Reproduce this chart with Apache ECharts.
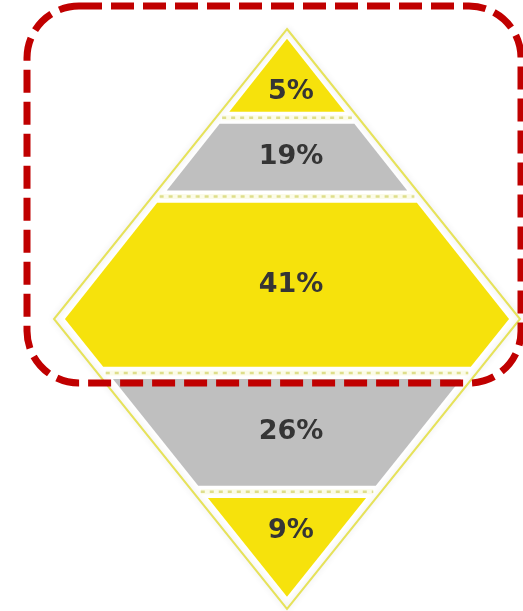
<!DOCTYPE html>
<html>
<head>
<meta charset="utf-8">
<script src="https://cdn.jsdelivr.net/npm/echarts@6/dist/echarts.min.js"></script>
<style>
  html, body { margin: 0; padding: 0; background: #ffffff; }
  #chart { width: 523px; height: 611px; }
</style>
</head>
<body>
<div id="chart"></div>
<script>
// Share of each band, listed from the top tip down
const shares = [5, 19, 41, 26, 9];
// Band boundaries on the height scale (0 = bottom tip, 100 = top tip)
const dividers = [84.7, 71.1, 40.7, 20.2];
// Fill colour of each band, top to bottom
const bandColors = ['#f6e20c', '#bfbfbf', '#f6e20c', '#bfbfbf', '#f6e20c'];

// Diamond geometry in axis units
const WIDEST = 50;                                    // height of the widest point
const OUTER = { top: 100, bottom: 0, half: 100 };     // thin outline
const INNER = { top: 98.3, bottom: 2.1, half: 95.3 }; // filled body
const GAP = 1.05;                                     // white space either side of a divider

function halfWidth(d, y) {
  if (y >= WIDEST) return Math.max(0, d.half * (d.top - y) / (d.top - WIDEST));
  return Math.max(0, d.half * (y - d.bottom) / (WIDEST - d.bottom));
}

// [index, low edge, high edge, share]
const bands = shares.map((v, i) => {
  const hi = i === 0 ? INNER.top : dividers[i - 1] - GAP;
  const lo = i === shares.length - 1 ? INNER.bottom : dividers[i] + GAP;
  return [i, lo, hi, v];
});

function renderBand(params, api) {
  const i = api.value(0), lo = api.value(1), hi = api.value(2), v = api.value(3);
  const ys = [hi];
  if (hi > WIDEST && lo < WIDEST) ys.push(WIDEST);
  ys.push(lo);
  const left = [], right = [];
  ys.forEach(y => {
    const w = halfWidth(INNER, y);
    left.push(api.coord([-w, y]));
    right.unshift(api.coord([w, y]));
  });
  let ly;
  if (hi >= INNER.top - 0.01) ly = lo + (hi - lo) * 0.27;       // top triangle
  else if (lo <= INNER.bottom + 0.01) ly = hi - (hi - lo) / 3;  // bottom triangle
  else ly = (lo + hi) / 2;
  const p = api.coord([0, ly]);
  return {
    type: 'group',
    children: [
      { type: 'polygon', shape: { points: left.concat(right) }, style: { fill: bandColors[i] } },
      {
        type: 'text', x: p[0] + 4, y: p[1],
        style: {
          text: v + '%', fill: '#353535', font: 'bold 27px "DejaVu Sans"',
          align: 'center', verticalAlign: 'middle'
        }
      }
    ]
  };
}

function renderOutline(params, api) {
  const pts = [
    api.coord([0, OUTER.top]), api.coord([OUTER.half, WIDEST]),
    api.coord([0, OUTER.bottom]), api.coord([-OUTER.half, WIDEST])
  ];
  return {
    type: 'polygon', shape: { points: pts },
    style: {
      fill: 'none', stroke: '#e6e25a', lineWidth: 2,
      shadowColor: 'rgba(0,0,0,0.12)', shadowBlur: 6
    }
  };
}

function renderDivider(params, api) {
  const y = api.value(0);
  const w = halfWidth(INNER, y) + 1;
  const a = api.coord([-w, y]), b = api.coord([w, y]);
  return {
    type: 'group',
    children: [
      {
        type: 'line', shape: { x1: a[0], y1: a[1], x2: b[0], y2: b[1] },
        style: { stroke: '#fbfbe8', lineWidth: 5 }
      },
      {
        type: 'line', shape: { x1: a[0], y1: a[1], x2: b[0], y2: b[1] },
        style: { stroke: '#dede8a', lineWidth: 2.5, lineDash: [4, 5] }
      }
    ]
  };
}

const chart = echarts.init(document.getElementById('chart'));
chart.setOption({
  animation: false,
  backgroundColor: '#ffffff',
  grid: { left: 54, right: 3, top: 29, bottom: 2 },
  xAxis: { type: 'value', min: -100, max: 100, show: false },
  yAxis: { type: 'value', min: 0, max: 100, show: false },
  series: [
    { type: 'custom', renderItem: renderOutline, data: [[0]], silent: true },
    { type: 'custom', renderItem: renderBand, data: bands, silent: true },
    { type: 'custom', renderItem: renderDivider, data: dividers.map(d => [d]), silent: true }
  ],
  graphic: [{
    type: 'rect',
    shape: { x: 27, y: 6, width: 494, height: 377, r: 52 },
    style: { fill: 'none', stroke: '#c00000', lineWidth: 7, lineDash: [23, 9] },
    z: 100
  }]
});
</script>
</body>
</html>
